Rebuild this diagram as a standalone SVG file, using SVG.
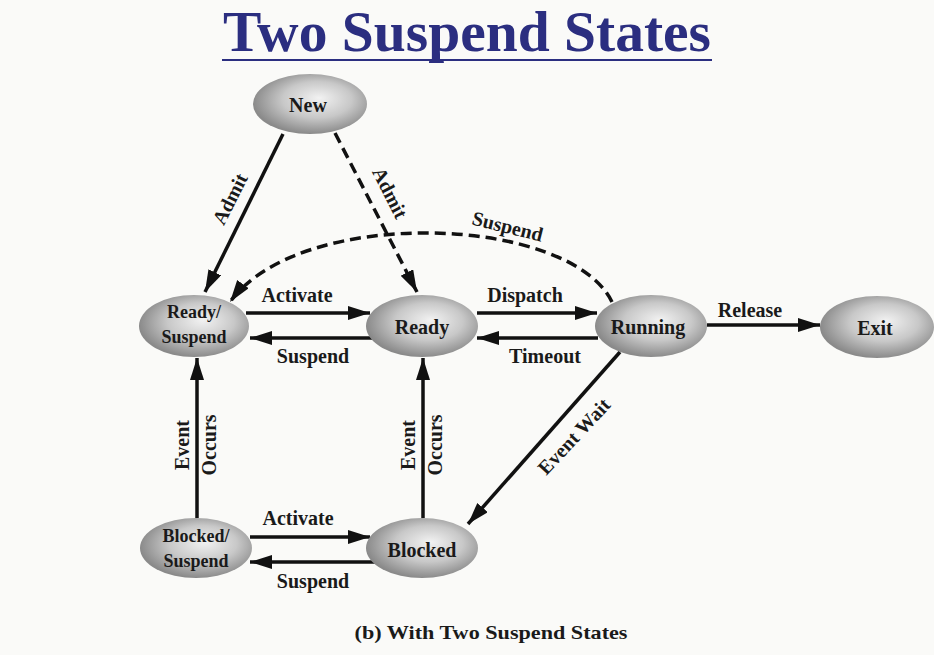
<svg xmlns="http://www.w3.org/2000/svg" width="934" height="655" viewBox="0 0 934 655">
  <style>
    .title { font-family: "Liberation Serif", "Times New Roman", serif; font-weight: bold; font-size: 57px; fill: #2b2e80; }
    .node text { font-family: "Liberation Serif", "Times New Roman", serif; font-weight: bold; font-size: 20px; fill: #1a1a1a; text-anchor: middle; }
    .node text.two { font-size: 18px; }
    .node ellipse { fill: url(#shade); stroke: none; }
    .lbl { font-family: "Liberation Serif", "Times New Roman", serif; font-weight: bold; font-size: 20px; fill: #1a1a1a; text-anchor: middle; }
    .edge { fill: none; stroke: #111; stroke-width: 3.5; marker-end: url(#head); }
    .dash { stroke-dasharray: 11 6; }
    .caption { font-family: "Liberation Serif", "Times New Roman", serif; font-weight: bold; font-size: 19px; fill: #1a1a1a; text-anchor: middle; }
  </style>
  <defs>
    <radialGradient id="shade" cx="55%" cy="45%" r="55%" fx="58%" fy="40%">
      <stop offset="0" stop-color="#f2f2f2"/>
      <stop offset="0.55" stop-color="#c8c8c8"/>
      <stop offset="1" stop-color="#8a8a8a"/>
    </radialGradient>
    <marker id="head" markerUnits="userSpaceOnUse" markerWidth="24" markerHeight="16" refX="22" refY="7" orient="auto">
      <path d="M0,0 L22,7 L0,14 Z" fill="#111"/>
    </marker>
  </defs>

  <rect width="934" height="655" fill="#fafaf8"/>

  <!-- heading -->
  <text class="title" x="467" y="51" text-anchor="middle" textLength="488" lengthAdjust="spacingAndGlyphs">Two Suspend States</text>
  <line x1="222" y1="60" x2="712" y2="60" stroke="#2b2e80" stroke-width="2.2"/>

  <!-- transitions -->
  <g id="connectors">
    <path class="edge" d="M283,134 L205,292"/>
    <path class="edge dash" d="M335,133 L417,292"/>
    <path class="edge dash" d="M612,302 C570,215 300,205 230,302"/>
    <path class="edge" d="M246,313 L370,313"/>
    <path class="edge" d="M378,338 L250,338"/>
    <path class="edge" d="M477,313 L597,313"/>
    <path class="edge" d="M598,338 L477,338"/>
    <path class="edge" d="M707,325 L820,325"/>
    <path class="edge" d="M620,352 L468,524"/>
    <path class="edge" d="M197,518 L197,358"/>
    <path class="edge" d="M423,518 L423,358"/>
    <path class="edge" d="M250,537 L370,537"/>
    <path class="edge" d="M378,562 L250,562"/>

    <text class="lbl" transform="translate(236,202) rotate(-63)">Admit</text>
    <text class="lbl" transform="translate(384,196) rotate(63)">Admit</text>
    <text class="lbl" transform="translate(506,233) rotate(14)">Suspend</text>
    <text class="lbl" x="297" y="302">Activate</text>
    <text class="lbl" x="313" y="363">Suspend</text>
    <text class="lbl" x="525" y="302">Dispatch</text>
    <text class="lbl" x="545" y="363">Timeout</text>
    <text class="lbl" x="750" y="317">Release</text>
    <text class="lbl" transform="translate(579,441) rotate(-47)">Event Wait</text>
    <text class="lbl" transform="translate(189,445) rotate(-90)">Event</text>
    <text class="lbl" transform="translate(216,445) rotate(-90)">Occurs</text>
    <text class="lbl" transform="translate(415,445) rotate(-90)">Event</text>
    <text class="lbl" transform="translate(442,445) rotate(-90)">Occurs</text>
    <text class="lbl" x="298" y="525">Activate</text>
    <text class="lbl" x="313" y="588">Suspend</text>
  </g>

  <!-- states -->
  <g id="new" class="node">
    <ellipse cx="310" cy="104" rx="57" ry="30"/>
    <text x="308" y="112">New</text>
  </g>
  <g id="ready-suspend" class="node">
    <ellipse cx="194" cy="326" rx="55" ry="31"/>
    <text class="two" x="194" y="318">Ready/</text>
    <text class="two" x="194" y="343">Suspend</text>
  </g>
  <g id="ready" class="node">
    <ellipse cx="422" cy="326" rx="56" ry="31"/>
    <text x="422" y="334">Ready</text>
  </g>
  <g id="running" class="node">
    <ellipse cx="651" cy="326" rx="56" ry="31"/>
    <text x="648" y="334">Running</text>
  </g>
  <g id="exit" class="node">
    <ellipse cx="877" cy="327" rx="57" ry="31"/>
    <text x="875" y="335">Exit</text>
  </g>
  <g id="blocked-suspend" class="node">
    <ellipse cx="196" cy="548" rx="56" ry="30"/>
    <text class="two" x="196" y="542">Blocked/</text>
    <text class="two" x="196" y="567">Suspend</text>
  </g>
  <g id="blocked" class="node">
    <ellipse cx="422" cy="548" rx="56" ry="30"/>
    <text x="422" y="557">Blocked</text>
  </g>

  <text class="caption" x="491" y="639" textLength="273" lengthAdjust="spacingAndGlyphs">(b) With Two Suspend States</text>
</svg>
